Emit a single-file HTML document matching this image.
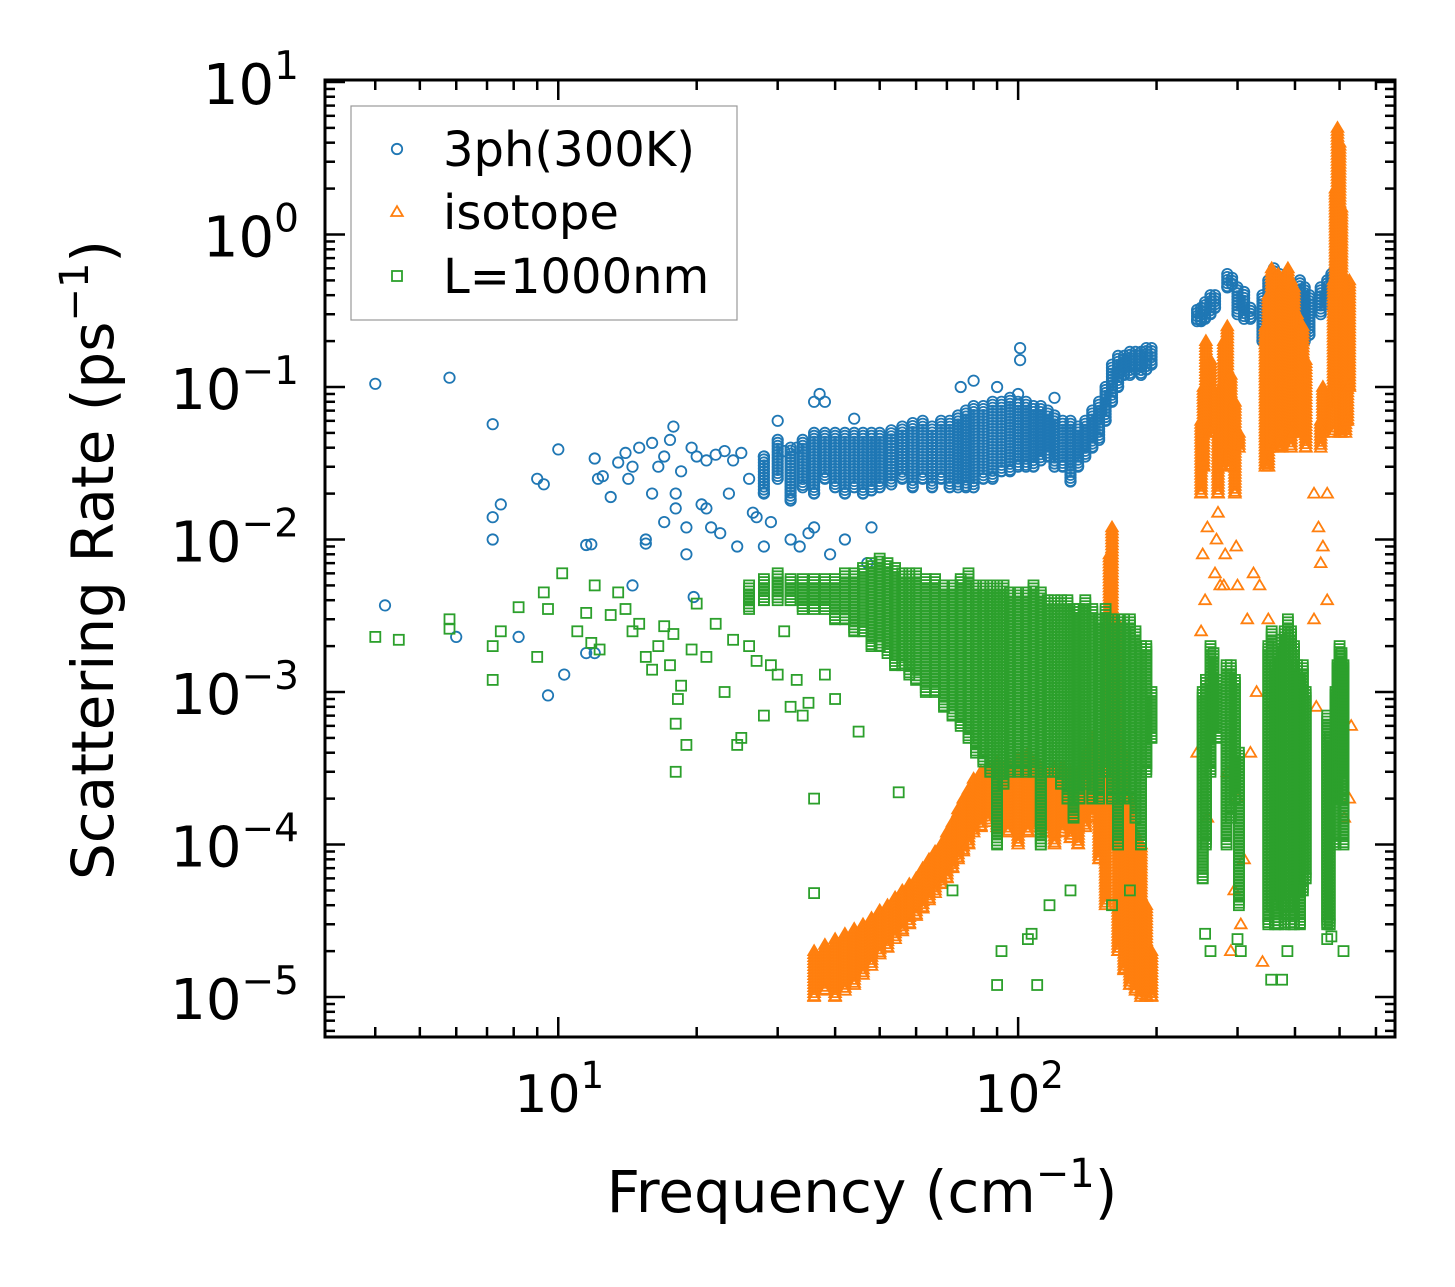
<!DOCTYPE html>
<html><head><meta charset="utf-8">
<style>
html,body{margin:0;padding:0;background:#fff;}
svg{display:block;font-family:"DejaVu Sans","Liberation Sans",sans-serif;}
</style></head>
<body>
<svg id="chart" width="1455" height="1287" viewBox="0 0 1455 1287"></svg>
<script>
// ---- data (freq cm^-1, rate ps^-1) ----
const blueF=[4,5.8,7.2,7.2,7.2,7.5,9,9.3,10,11.5,11.8,12,12.2,12.5,13,13.5,14,14.2,14.5,15,15.5,15.5,16,16.5,17,17.5,17.8,18,18,18.5,19,19.5,20,20.5,21,21.5,22,23,23.5,24,25,26,27,28,28,29,30,31,32,33,36,36,37,38,44,47,75,80,90,100,101,101,120,4.2,6,8.2,9.5,10.3,11.5,12,14.5,19.7,16,17,19,21,22.5,24.5,26.5,33.5,35,39,42,48];
const blueR=[0.105,0.115,0.057,0.014,0.010,0.017,0.025,0.023,0.039,0.0092,0.0093,0.034,0.025,0.026,0.019,0.032,0.037,0.025,0.03,0.04,0.01,0.0094,0.043,0.03,0.035,0.045,0.055,0.02,0.016,0.028,0.012,0.04,0.035,0.017,0.033,0.012,0.036,0.038,0.02,0.033,0.037,0.025,0.014,0.035,0.009,0.013,0.06,0.038,0.01,0.04,0.08,0.012,0.09,0.08,0.062,0.007,0.1,0.11,0.1,0.09,0.18,0.15,0.085,0.0037,0.0023,0.0023,0.00095,0.0013,0.0018,0.0018,0.005,0.0042,0.02,0.013,0.008,0.016,0.011,0.009,0.015,0.009,0.011,0.008,0.01,0.012];
const blueColF=[28,30,32,34,36,38,40,42,44,46,48,50,53,56,59,62,65,68,71,74,77,80,84,88,92,96,100,104,108,112,116,120,125,130,135,140,145,150,155,160,165,170,175,180,185,190,195,245,250,255,262,268,285,292,300,310,320,340,350,360,370,380,390,400,410,420,430,455,470,480,490,500,510,520];
const blueColLo=[0.02,0.025,0.018,0.022,0.02,0.025,0.022,0.02,0.022,0.02,0.021,0.022,0.023,0.025,0.022,0.025,0.022,0.025,0.022,0.022,0.022,0.022,0.025,0.025,0.028,0.028,0.03,0.03,0.03,0.033,0.035,0.03,0.03,0.024,0.03,0.035,0.04,0.045,0.06,0.08,0.1,0.12,0.12,0.13,0.12,0.13,0.14,0.27,0.27,0.28,0.3,0.33,0.45,0.47,0.3,0.28,0.28,0.2,0.18,0.17,0.18,0.2,0.22,0.25,0.2,0.2,0.22,0.3,0.35,0.4,0.5,0.45,0.25,0.23];
const blueColHi=[0.035,0.045,0.04,0.045,0.05,0.05,0.05,0.05,0.05,0.05,0.05,0.05,0.052,0.055,0.058,0.06,0.055,0.06,0.06,0.065,0.07,0.075,0.075,0.08,0.08,0.085,0.08,0.08,0.075,0.075,0.07,0.065,0.06,0.06,0.055,0.06,0.07,0.08,0.1,0.14,0.16,0.16,0.17,0.17,0.17,0.18,0.18,0.32,0.33,0.36,0.4,0.4,0.55,0.52,0.45,0.42,0.33,0.4,0.5,0.6,0.55,0.5,0.45,0.42,0.5,0.45,0.4,0.45,0.5,0.55,0.65,0.6,0.5,0.45];

const orgF=[250,255,262,270,275,280,300,310,320,330,340,245,258,285,295,305,350,355,365,440,445,455,470,530,525,512,290,300,252,258,268,272,282,298,315,325,335,440,450,460,470];
const orgR=[0.0025,0.004,0.0012,0.01,0.005,0.005,0.0002,0.00008,0.0004,0.001,0.000017,0.0004,0.00015,0.0003,0.00005,0.00003,0.003,0.0008,0.0002,0.003,0.0008,0.007,0.004,0.0006,0.0002,0.00015,0.00002,0.005,0.008,0.012,0.006,0.015,0.008,0.009,0.003,0.006,0.005,0.02,0.012,0.009,0.02];
const orgColF=[36,38,40,42,44,46,48,50,52,54,56,58,60,62,64,66,68,70,72,74,76,78,80,83,86,90,95,100,105,110,115,120,125,130,135,140,145,150,155,158,160,163,165,170,175,180,185,190,195,250,253,256,262,272,276,280,285,290,296,302,345,350,356,362,368,374,380,386,392,398,404,410,416,422,455,460,485,490,495,500,505,515,520,525];
const orgColLo=[1e-5,1.1e-5,1e-5,1.1e-5,1.2e-5,1.4e-5,1.6e-5,1.9e-5,2.1e-5,2.4e-5,2.7e-5,3e-5,3.4e-5,3.8e-5,4.3e-5,4.8e-5,5.5e-5,6e-5,7e-5,8e-5,9e-5,1e-4,1.2e-4,1.3e-4,1.4e-4,1.3e-4,1.2e-4,1e-4,1.2e-4,1.3e-4,1.2e-4,1e-4,1.2e-4,1.1e-4,1e-4,1.3e-4,1.5e-4,8e-5,4e-5,5e-4,3e-4,1e-4,2e-5,1.5e-5,1.2e-5,1.1e-5,1e-5,1e-5,1e-5,0.02,0.03,0.05,0.05,0.02,0.03,0.05,0.04,0.03,0.02,0.04,0.03,0.03,0.04,0.05,0.04,0.04,0.05,0.06,0.04,0.05,0.06,0.05,0.05,0.04,0.04,0.05,0.05,0.08,0.1,0.05,0.05,0.05,0.06,0.1];
const orgColHi=[2e-5,2.2e-5,2.4e-5,2.6e-5,2.8e-5,3e-5,3.3e-5,3.7e-5,4e-5,4.5e-5,5e-5,5.5e-5,6e-5,7e-5,8e-5,9e-5,1e-4,1.2e-4,1.4e-4,1.7e-4,2e-4,2.3e-4,2.7e-4,3e-4,3.3e-4,3.5e-4,3.5e-4,3.7e-4,4e-4,3.5e-4,3e-4,3.2e-4,3.3e-4,3e-4,3e-4,4e-4,5e-4,3e-4,4e-4,8e-3,1.2e-2,3e-3,5e-4,4e-4,2e-4,1.2e-4,1e-4,4e-5,2e-5,0.06,0.1,0.2,0.15,0.05,0.1,0.2,0.25,0.12,0.08,0.05,0.25,0.4,0.6,0.5,0.55,0.45,0.5,0.6,0.5,0.45,0.3,0.25,0.25,0.15,0.06,0.1,0.5,2,5,4,1.5,0.4,0.3,0.5];

const grnF=[4,4.5,5.8,5.8,7.2,7.2,7.5,8.2,9,9.3,9.5,10.2,11,11.5,11.8,12,12.3,13,13.5,14,14.5,15,15.5,16,16.5,17,17.5,17.8,18,18,18.2,18.5,19,19.5,20,21,22,23,24,24.5,25,26,27,28,29,30,31,32,33,34,35,36,36,38,40,45,55,72,90,92,107,110,105,117,130,160,175,255,262,300,305,355,375,385,470,480,510];
const grnR=[0.0023,0.0022,0.0026,0.003,0.002,0.0012,0.0025,0.0036,0.0017,0.0045,0.0035,0.006,0.0025,0.0033,0.0021,0.005,0.0019,0.0032,0.0045,0.0035,0.0025,0.0028,0.0017,0.0014,0.002,0.0027,0.0015,0.0024,0.00062,0.0003,0.0009,0.0011,0.00045,0.0019,0.0038,0.0017,0.0028,0.001,0.0022,0.00045,0.0005,0.002,0.0016,0.0007,0.0015,0.0013,0.0025,0.0008,0.0012,0.0007,0.00085,0.0002,0.000048,0.0013,0.0009,0.00055,0.00022,0.00005,0.000012,0.00002,0.000026,0.000012,0.000024,0.00004,0.00005,0.00004,0.00005,0.000026,0.00002,0.000024,0.00002,0.000013,0.000013,0.00002,0.000024,0.000025,0.00002];
const grnColF=[26,28,30,32,34,36,38,40,42,44,46,48,50,52,54,56,58,60,63,66,69,72,75,78,81,84,87,90,93,96,100,104,108,112,116,120,124,128,132,136,140,145,150,155,160,165,170,175,180,185,190,195,252,256,262,266,270,284,290,296,302,350,356,362,368,374,380,386,392,398,404,410,416,422,470,476,490,495,500,505,510];
const grnColLo=[3.5e-3,4e-3,4e-3,4e-3,3.5e-3,3.5e-3,3.5e-3,3e-3,3e-3,2.5e-3,2.5e-3,2e-3,2e-3,1.8e-3,1.5e-3,1.5e-3,1.3e-3,1.2e-3,1e-3,1e-3,8e-4,7e-4,6e-4,5e-4,4e-4,3.5e-4,3e-4,1e-4,2.5e-4,3e-4,3e-4,3e-4,3e-4,1e-4,3e-4,3e-4,2.5e-4,2e-4,1.5e-4,2e-4,2.5e-4,2e-4,2e-4,3e-4,2e-4,1e-4,2e-4,2e-4,1.5e-4,1e-4,3e-4,5e-4,6e-5,1e-4,3e-4,6e-4,5e-4,1e-4,1.5e-4,2e-4,4e-5,3e-5,4e-5,3e-5,3e-5,4e-5,3e-5,4e-5,3e-5,3e-5,5e-5,3e-5,5e-5,6e-5,3e-5,3e-5,1e-4,2e-4,3e-4,2e-4,1e-4];
const grnColHi=[5e-3,5.5e-3,6e-3,5.5e-3,5.5e-3,5.5e-3,5.5e-3,5.5e-3,6e-3,6e-3,6.5e-3,7e-3,7.5e-3,7e-3,6.5e-3,6e-3,6e-3,6e-3,5.5e-3,5.5e-3,5e-3,5e-3,5.5e-3,6e-3,5e-3,5e-3,5e-3,5e-3,5e-3,4.5e-3,4.5e-3,4.5e-3,5e-3,4.5e-3,4e-3,4e-3,4e-3,4e-3,3.5e-3,3.5e-3,4e-3,3.5e-3,3e-3,3.5e-3,3e-3,3e-3,3e-3,3e-3,2.5e-3,2e-3,2e-3,1e-3,1e-3,1.2e-3,2e-3,1.8e-3,1.2e-3,1.5e-3,1.5e-3,1.2e-3,4e-4,2e-3,2.5e-3,1.5e-3,1.8e-3,2.2e-3,2.5e-3,3e-3,2.5e-3,2e-3,1.5e-3,1.2e-3,1.5e-3,1e-3,7e-4,5e-4,1e-3,1.5e-3,2e-3,1.8e-3,1.5e-3];

const xTickVals=[10,100];
const xTickExp=["1","2"];
const yTickVals=[10,1,0.1,0.01,0.001,1e-4,1e-5];
const yTickExp=["1","0","\u22121","\u22122","\u22123","\u22124","\u22125"];

// ---- axes ----
const L=325,R=1395,T=80,B=1037;
const XMIN=Math.log10(3.11),XMAX=Math.log10(660);
const YMIN=-5.262,YMAX=1.013;
const X=f=>L+(Math.log10(f)-XMIN)/(XMAX-XMIN)*(R-L);
const Y=r=>B-(Math.log10(r)-YMIN)/(YMAX-YMIN)*(B-T);
const NS="http://www.w3.org/2000/svg";
const svg=document.getElementById('chart');
function mk(tag,attrs,parent){const e=document.createElementNS(NS,tag);for(const k in attrs)e.setAttribute(k,attrs[k]);(parent||svg).appendChild(e);return e;}

const clip=mk('clipPath',{id:'pc'});mk('rect',{x:L,y:T,width:R-L,height:B-T},clip);
const gB=mk('g',{'clip-path':'url(#pc)',fill:'none',stroke:'#1f77b4','stroke-width':1.8});


const gO=mk('g',{'clip-path':'url(#pc)',fill:'none',stroke:'#ff7f0e','stroke-width':1.8});


const gG=mk('g',{'clip-path':'url(#pc)',fill:'none',stroke:'#2ca02c','stroke-width':1.8});



function circ(g,x,y){const e=mk('circle',{cx:x.toFixed(1),cy:y.toFixed(1),r:5.2},g);}
function tri(g,x,y){const e=mk('path',{d:`M${(x-5.8).toFixed(1)},${(y+4).toFixed(1)}L${(x+5.8).toFixed(1)},${(y+4).toFixed(1)}L${x.toFixed(1)},${(y-5.8).toFixed(1)}Z`},g);}
function sq(g,x,y){const e=mk('rect',{x:(x-5).toFixed(1),y:(y-5).toFixed(1),width:10,height:10},g);}

function drawCols(g,F,Lo,Hi,fn){for(let i=0;i<F.length;i++){const x=X(F[i]);const y1=Y(Hi[i]),y0=Y(Lo[i]);for(let y=y1;y<=y0;y+=3)fn(g,x,y);fn(g,x,y0);}}
function drawPts(g,F,Rr,fn){for(let i=0;i<F.length;i++)fn(g,X(F[i]),Y(Rr[i]));}

drawCols(gB,blueColF,blueColLo,blueColHi,circ);drawPts(gB,blueF,blueR,circ);
drawCols(gO,orgColF,orgColLo,orgColHi,tri);drawPts(gO,orgF,orgR,tri);
drawCols(gG,grnColF,grnColLo,grnColHi,sq);drawPts(gG,grnF,grnR,sq);

// frame
const fr=mk('rect',{x:L,y:T,width:R-L,height:B-T,fill:'none',stroke:'#000','stroke-width':3});


// ticks
const tg=mk('g',{stroke:'#000','stroke-width':2.5});

for(let d=0;d<=3;d++){for(let m=1;m<=9;m++){const f=m*Math.pow(10,d);const x=X(f);if(x<L||x>R)continue;const len=m===1?20:10;mk('line',{x1:x,y1:B,x2:x,y2:B-len},tg);mk('line',{x1:x,y1:T,x2:x,y2:T+len},tg);}}
for(let d=-6;d<=1;d++){for(let m=1;m<=9;m++){const r=m*Math.pow(10,d);const y=Y(r);if(y<T-0.5||y>B)continue;const len=m===1?20:10;mk('line',{x1:L,y1:y,x2:L+len,y2:y},tg);mk('line',{x1:R,y1:y,x2:R-len,y2:y},tg);}}

// tick labels
xTickVals.forEach((v,i)=>{const t=mk('text',{x:X(v)+1,y:1112,'font-size':52,'text-anchor':'middle'});t.textContent='10';const s=mk('tspan',{dy:-24,'font-size':37},t);s.textContent=xTickExp[i];});
yTickVals.forEach((v,i)=>{const t=mk('text',{x:299,y:Y(v)+22,'font-size':56,'text-anchor':'end'});t.textContent='10';const s=mk('tspan',{dy:-25,'font-size':39},t);s.textContent=yTickExp[i];});

// axis titles
const xt=mk('text',{x:862,y:1212,'font-size':58,'text-anchor':'middle'});

xt.innerHTML='Frequency (cm<tspan dy="-25" font-size="40">\u22121</tspan><tspan dy="25">)</tspan>';
const yt=mk('text',{x:0,y:0,'font-size':58,'text-anchor':'middle',transform:'translate(113,560) rotate(-90)'});

yt.innerHTML='Scattering Rate (ps<tspan dy="-25" font-size="40">\u22121</tspan><tspan dy="25">)</tspan>';

// legend
const lg=mk('g',{});

mk('rect',{x:351,y:106,width:386,height:214,fill:'#fff',stroke:'#999','stroke-width':1.2},lg);
const ents=[['3ph(300K)','#1f77b4',circ,149],['isotope','#ff7f0e',tri,212],['L=1000nm','#2ca02c',sq,276]];
ents.forEach(e=>{const g=mk('g',{fill:'none',stroke:e[1],'stroke-width':1.8},lg);e[2](g,397,e[3]);const t=mk('text',{x:443,y:e[3]+17,'font-size':48,fill:'#000'},lg);t.textContent=e[0];});
</script>
</body></html>
